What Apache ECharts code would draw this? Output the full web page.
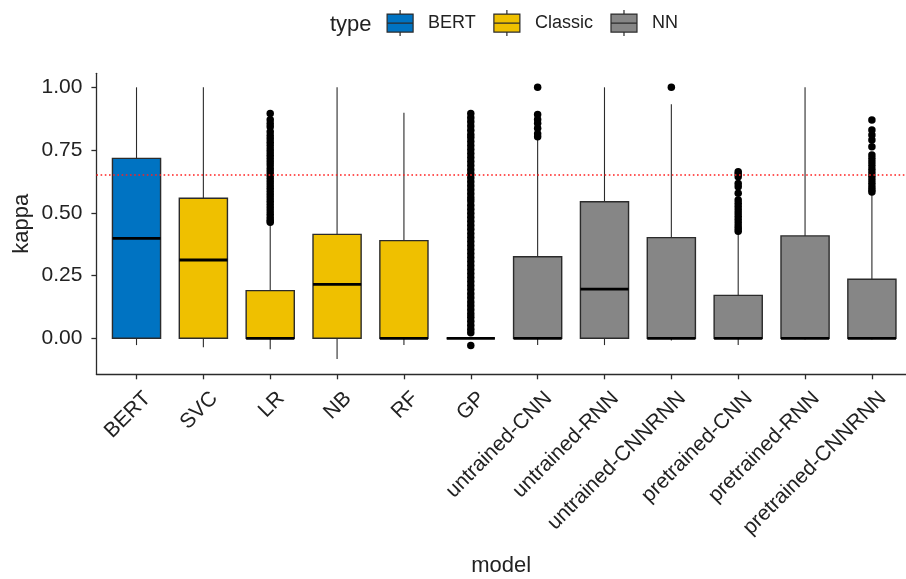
<!DOCTYPE html>
<html>
<head>
<meta charset="utf-8">
<script src="https://cdn.jsdelivr.net/npm/echarts@6/dist/echarts.min.js"></script>
<style>
  html, body { margin: 0; padding: 0; background: #ffffff; }
  #chart { width: 906px; height: 579px; }
</style>
</head>
<body>
<div id="chart"></div>
<script>
// Models on the x axis and the family each one belongs to
const models = ['BERT', 'SVC', 'LR', 'NB', 'RF', 'GP',
  'untrained-CNN', 'untrained-RNN', 'untrained-CNNRNN',
  'pretrained-CNN', 'pretrained-RNN', 'pretrained-CNNRNN'];
const modelTypes = ['BERT', 'Classic', 'Classic', 'Classic', 'Classic', 'Classic',
  'NN', 'NN', 'NN', 'NN', 'NN', 'NN'];
const typeNames = ['BERT', 'Classic', 'NN'];

// Box-plot statistics of kappa per model
const whiskerLow  = [-0.027, -0.036, -0.044, -0.082, -0.027, 0.000, -0.027, -0.027, -0.009, -0.027, -0.005, -0.005];
const quartile1   = [0.000, 0.000, 0.000, 0.000, 0.000, 0.000, 0.000, 0.000, 0.000, 0.000, 0.000, 0.000];
const medians     = [0.398, 0.312, 0.000, 0.215, 0.000, 0.000, 0.000, 0.196, 0.000, 0.000, 0.000, 0.000];
const quartile3   = [0.717, 0.558, 0.190, 0.414, 0.389, 0.000, 0.325, 0.544, 0.401, 0.171, 0.408, 0.235];
const whiskerHigh = [1.000, 1.000, 0.458, 1.000, 0.899, 0.000, 0.797, 1.000, 0.932, 0.421, 1.000, 0.580];

// Outlying kappa values per model
const outliersLR = [0.896, 0.871, 0.856, 0.843, 0.823, 0.808, 0.795, 0.781, 0.768, 0.754, 0.742,
  0.729, 0.716, 0.703, 0.69, 0.676, 0.663, 0.65, 0.637, 0.624, 0.611, 0.598, 0.585, 0.572,
  0.559, 0.546, 0.533, 0.52, 0.507, 0.494, 0.481, 0.47, 0.462];
const outliersGP = [0.896, 0.879, 0.863, 0.846, 0.829, 0.812, 0.8, 0.784, 0.768, 0.752, 0.736,
  0.72, 0.704, 0.688, 0.672, 0.656, 0.64, 0.624, 0.608, 0.592, 0.576, 0.56, 0.547, 0.53,
  0.514, 0.498, 0.482, 0.466, 0.45, 0.434, 0.418, 0.402, 0.386, 0.37, 0.354, 0.338, 0.322,
  0.306, 0.29, 0.274, 0.258, 0.242, 0.226, 0.21, 0.194, 0.178, 0.162, 0.145, 0.13, 0.114,
  0.098, 0.084, 0.068, 0.052, 0.036, 0.022, -0.029];
const outliersUntrainedCNN = [1.0, 0.892, 0.872, 0.857, 0.837, 0.815, 0.803];
const outliersUntrainedCNNRNN = [1.0];
const outliersPretrainedCNN = [0.664, 0.655, 0.644, 0.617, 0.604, 0.578, 0.551, 0.538, 0.525,
  0.512, 0.499, 0.486, 0.473, 0.46, 0.447, 0.436, 0.427];
const outliersPretrainedCNNRNN = [0.87, 0.83, 0.81, 0.79, 0.763, 0.73, 0.716, 0.702, 0.688,
  0.674, 0.66, 0.646, 0.632, 0.618, 0.604, 0.592, 0.583];
const outlierLists = [[], [], outliersLR, [], [], outliersGP, outliersUntrainedCNN, [],
  outliersUntrainedCNNRNN, outliersPretrainedCNN, [], outliersPretrainedCNNRNN];

const kappaThreshold = 0.65;
const yTickValues = [0, 0.25, 0.5, 0.75, 1];

// ---- styling ----
const FONT = '"Liberation Sans", Arial, sans-serif';
const TYPE_COLORS = { BERT: '#0073C2', Classic: '#EFC000', NN: '#868686' };
const BOX_WIDTH = 0.72;
const INK = '#2b2b2b';

function renderBox(params, api) {
  const i = api.value(0);
  const half = api.size([BOX_WIDTH, 0])[0] / 2;
  const pLow = api.coord([i, api.value(1)]);
  const pQ1 = api.coord([i, api.value(2)]);
  const pMed = api.coord([i, api.value(3)]);
  const pQ3 = api.coord([i, api.value(4)]);
  const pHigh = api.coord([i, api.value(5)]);
  const fill = api.visual('color');
  return {
    type: 'group',
    children: [
      { type: 'line', shape: { x1: pLow[0], y1: pLow[1], x2: pQ1[0], y2: pQ1[1] },
        style: { stroke: INK, lineWidth: 1.1 } },
      { type: 'line', shape: { x1: pQ3[0], y1: pQ3[1], x2: pHigh[0], y2: pHigh[1] },
        style: { stroke: INK, lineWidth: 1.1 } },
      { type: 'rect', shape: { x: pQ1[0] - half, y: pQ3[1], width: half * 2, height: pQ1[1] - pQ3[1] },
        style: { fill: fill, stroke: INK, lineWidth: 1.4 } },
      { type: 'line', shape: { x1: pMed[0] - half, y1: pMed[1], x2: pMed[0] + half, y2: pMed[1] },
        style: { stroke: '#000000', lineWidth: 2.8 } }
    ]
  };
}

const boxSeries = typeNames.map(function (t) {
  const data = [];
  models.forEach(function (m, i) {
    if (modelTypes[i] === t) {
      data.push([i, whiskerLow[i], quartile1[i], medians[i], quartile3[i], whiskerHigh[i]]);
    }
  });
  return {
    name: t,
    type: 'custom',
    renderItem: renderBox,
    itemStyle: { color: TYPE_COLORS[t], borderColor: INK, borderWidth: 1.2 },
    encode: { x: 0, y: [1, 2, 3, 4, 5] },
    data: data,
    z: 2
  };
});

const outlierData = [];
outlierLists.forEach(function (list, i) {
  list.forEach(function (v) { outlierData.push([i, v]); });
});

const chart = echarts.init(document.getElementById('chart'), null, { renderer: 'canvas' });
chart.setOption({
  animation: false,
  backgroundColor: '#ffffff',
  title: {
    text: 'type', left: 330, top: 14, padding: 0,
    textStyle: { fontFamily: FONT, fontSize: 22, fontWeight: 'normal', color: '#222222' }
  },
  legend: {
    data: typeNames,
    left: 386.5, top: 9.5, padding: 0,
    itemWidth: 26, itemHeight: 26, itemGap: 17.5,
    icon: 'path://M0,4H26V22H0Z M0,13H26 M13,0V4 M13,22V26',
    itemStyle: { borderColor: INK, borderWidth: 1.2 },
    textStyle: { fontFamily: FONT, fontSize: 18, color: '#222222', padding: [3, 0, 0, 10] },
    selectedMode: false
  },
  grid: { left: 96.4, right: 0, top: 73.3, bottom: 204.7, outerBoundsMode: 'none', containLabel: false },
  xAxis: {
    type: 'value', min: -0.6, max: 11.51,
    name: 'model', nameLocation: 'middle', nameGap: 181, nameMoveOverlap: false,
    nameTextStyle: { fontFamily: FONT, fontSize: 22, color: '#222222' },
    splitLine: { show: false },
    axisLine: { show: true, onZero: false, lineStyle: { color: INK, width: 1.3 } },
    axisTick: { show: true, length: 5, customValues: models.map(function (m, i) { return i; }),
      lineStyle: { color: INK, width: 1.3 } },
    axisLabel: {
      customValues: models.map(function (m, i) { return i; }),
      formatter: function (v) { return models[Math.round(v)]; },
      rotate: 45, margin: 10, align: 'right', verticalAlign: 'top', padding: [5, 0, 0, 0],
      fontFamily: FONT, fontSize: 21, color: '#222222'
    }
  },
  yAxis: {
    type: 'value', min: -0.1434, max: 1.0558,
    name: 'kappa', nameLocation: 'middle', nameGap: 63, nameRotate: 90, nameMoveOverlap: false,
    nameTextStyle: { fontFamily: FONT, fontSize: 22, color: '#222222' },
    splitLine: { show: false },
    axisLine: { show: true, onZero: false, lineStyle: { color: INK, width: 1.3 } },
    axisTick: { show: true, length: 5, customValues: yTickValues, lineStyle: { color: INK, width: 1.3 } },
    axisLabel: {
      customValues: yTickValues,
      formatter: function (v) { return v.toFixed(2); },
      margin: 14, fontFamily: FONT, fontSize: 21, color: '#222222'
    }
  },
  series: boxSeries.concat([{
    name: 'outliers',
    type: 'scatter',
    symbol: 'circle',
    symbolSize: 7.5,
    itemStyle: { color: '#000000', opacity: 1 },
    data: outlierData,
    z: 3,
    markLine: {
      silent: true, symbol: 'none',
      label: { show: false },
      lineStyle: { color: '#ff2020', type: [1.6, 2.6], width: 1.6, opacity: 1 },
      data: [{ yAxis: kappaThreshold, lineStyle: { color: '#ff2020' } }]
    }
  }])
});
</script>
</body>
</html>
